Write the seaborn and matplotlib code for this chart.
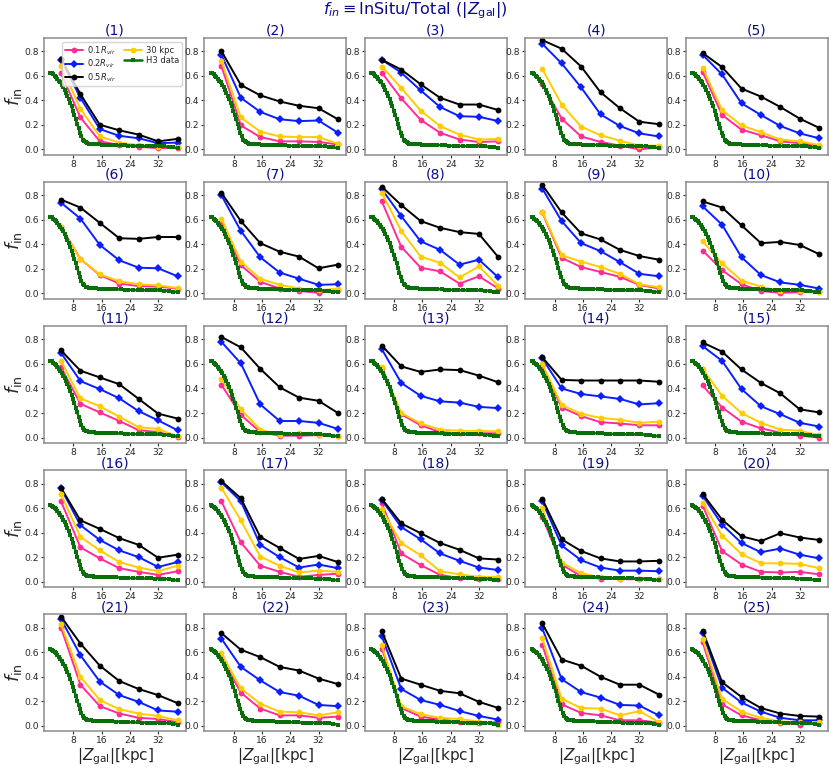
import numpy as np
import pandas as pd
import matplotlib
matplotlib.use("Agg")
import matplotlib.pyplot as plt
import seaborn as sns

# |Z_gal| bin centres for the simulated haloes
z_sim = [4.5, 10.0, 15.5, 21.0, 26.5, 32.0, 37.5]

# H3 observational curve (same in every panel)
h3_z = [1.5, 1.9, 2.3, 2.7, 3.1, 3.5, 3.9, 4.3, 4.7, 5.1, 5.5, 5.9, 6.3, 6.7, 7.1, 7.5,
        7.9, 8.3, 8.7, 9.1, 9.5, 9.9, 10.3, 10.7, 11.1, 11.5, 11.9, 12.3, 12.7, 13.1,
        13.5, 13.9, 14.5, 15.2, 16.0, 17.0, 18.0, 19.0, 20.2, 21.5, 22.5, 23.6, 25.0,
        26.2, 27.5, 28.8, 30.0, 31.2, 32.5, 33.8, 35.0, 36.2, 37.5]
h3_fin = [0.625, 0.62, 0.61, 0.60, 0.59, 0.575, 0.56, 0.545, 0.525, 0.505, 0.485, 0.46,
          0.435, 0.41, 0.38, 0.35, 0.315, 0.28, 0.245, 0.205, 0.17, 0.135, 0.105, 0.08,
          0.065, 0.056, 0.05, 0.047, 0.045, 0.044, 0.043, 0.042, 0.041, 0.040, 0.039,
          0.038, 0.037, 0.036, 0.035, 0.034, 0.032, 0.030, 0.028, 0.027, 0.026, 0.026,
          0.026, 0.025, 0.025, 0.024, 0.020, 0.015, 0.010]

# f_in per halo, one row per panel (1..25)
r01 = [
    [0.62, 0.26, 0.065, 0.035, 0.02, 0.01, 0.01],
    [0.68, 0.195, 0.10, 0.065, 0.065, 0.06, 0.04],
    [0.625, 0.415, 0.24, 0.135, 0.08, 0.06, 0.065],
    [0.535, 0.25, 0.105, 0.06, 0.03, 0.0, 0.015],
    [0.63, 0.28, 0.16, 0.115, 0.065, 0.05, 0.03],
    [0.545, 0.28, 0.15, 0.08, 0.06, 0.055, 0.04],
    [0.57, 0.23, 0.095, 0.04, 0.02, 0.005, 0.025],
    [0.75, 0.38, 0.21, 0.18, 0.08, 0.14, 0.04],
    [0.66, 0.29, 0.215, 0.175, 0.135, 0.07, 0.04],
    [0.35, 0.19, 0.075, 0.02, 0.005, 0.01, 0.02],
    [0.575, 0.275, 0.205, 0.135, 0.06, 0.045, 0.005],
    [0.43, 0.185, 0.045, 0.015, 0.015, 0.02, 0.01],
    [0.57, 0.19, 0.10, 0.045, 0.035, 0.035, 0.035],
    [0.58, 0.245, 0.175, 0.125, 0.115, 0.10, 0.10],
    [0.425, 0.245, 0.13, 0.075, 0.04, 0.015, 0.0],
    [0.655, 0.28, 0.19, 0.11, 0.08, 0.055, 0.085],
    [0.655, 0.32, 0.13, 0.08, 0.04, 0.055, 0.065],
    [0.64, 0.23, 0.135, 0.055, 0.03, 0.025, 0.025],
    [0.53, 0.14, 0.045, 0.025, 0.02, 0.02, 0.02],
    [0.62, 0.25, 0.14, 0.08, 0.075, 0.08, 0.06],
    [0.80, 0.335, 0.16, 0.10, 0.065, 0.055, 0.03],
    [0.56, 0.27, 0.14, 0.085, 0.085, 0.065, 0.075],
    [0.63, 0.145, 0.075, 0.05, 0.035, 0.02, 0.03],
    [0.66, 0.175, 0.105, 0.085, 0.045, 0.045, 0.025],
    [0.68, 0.175, 0.085, 0.045, 0.025, 0.01, 0.02],
]
r02 = [
    [0.73, 0.42, 0.165, 0.11, 0.09, 0.05, 0.055],
    [0.77, 0.42, 0.305, 0.245, 0.23, 0.235, 0.135],
    [0.73, 0.625, 0.48, 0.345, 0.27, 0.265, 0.23],
    [0.86, 0.70, 0.505, 0.285, 0.19, 0.13, 0.105],
    [0.77, 0.61, 0.375, 0.28, 0.19, 0.13, 0.09],
    [0.74, 0.61, 0.395, 0.27, 0.21, 0.205, 0.14],
    [0.80, 0.51, 0.295, 0.17, 0.12, 0.07, 0.075],
    [0.85, 0.63, 0.425, 0.355, 0.235, 0.275, 0.13],
    [0.855, 0.59, 0.41, 0.345, 0.255, 0.16, 0.14],
    [0.71, 0.56, 0.295, 0.15, 0.09, 0.07, 0.04],
    [0.69, 0.46, 0.395, 0.32, 0.215, 0.14, 0.06],
    [0.78, 0.605, 0.27, 0.135, 0.135, 0.12, 0.07],
    [0.72, 0.445, 0.34, 0.295, 0.285, 0.25, 0.24],
    [0.645, 0.40, 0.355, 0.335, 0.315, 0.27, 0.28],
    [0.745, 0.625, 0.395, 0.255, 0.19, 0.12, 0.09],
    [0.76, 0.46, 0.34, 0.255, 0.20, 0.12, 0.16],
    [0.81, 0.655, 0.30, 0.20, 0.115, 0.14, 0.11],
    [0.665, 0.445, 0.345, 0.23, 0.17, 0.115, 0.095],
    [0.655, 0.295, 0.175, 0.115, 0.09, 0.09, 0.085],
    [0.70, 0.465, 0.315, 0.24, 0.27, 0.22, 0.19],
    [0.87, 0.575, 0.36, 0.25, 0.195, 0.125, 0.115],
    [0.71, 0.48, 0.37, 0.275, 0.245, 0.17, 0.16],
    [0.73, 0.30, 0.21, 0.17, 0.12, 0.08, 0.05],
    [0.795, 0.38, 0.275, 0.23, 0.17, 0.165, 0.085],
    [0.755, 0.31, 0.19, 0.115, 0.065, 0.045, 0.045],
]
r05 = [
    [0.74, 0.45, 0.20, 0.155, 0.12, 0.065, 0.085],
    [0.80, 0.525, 0.44, 0.39, 0.355, 0.335, 0.245],
    [0.73, 0.65, 0.53, 0.42, 0.365, 0.365, 0.32],
    [0.89, 0.82, 0.675, 0.465, 0.335, 0.225, 0.205],
    [0.785, 0.67, 0.495, 0.43, 0.345, 0.25, 0.175],
    [0.765, 0.70, 0.575, 0.45, 0.445, 0.46, 0.46],
    [0.82, 0.59, 0.41, 0.34, 0.30, 0.205, 0.235],
    [0.87, 0.72, 0.59, 0.535, 0.50, 0.485, 0.295],
    [0.885, 0.66, 0.49, 0.44, 0.355, 0.305, 0.275],
    [0.75, 0.70, 0.555, 0.41, 0.42, 0.395, 0.32],
    [0.71, 0.545, 0.49, 0.435, 0.315, 0.195, 0.155],
    [0.82, 0.735, 0.56, 0.41, 0.325, 0.30, 0.20],
    [0.75, 0.58, 0.535, 0.555, 0.55, 0.505, 0.45],
    [0.655, 0.47, 0.465, 0.465, 0.465, 0.465, 0.455],
    [0.775, 0.70, 0.555, 0.445, 0.36, 0.23, 0.205],
    [0.765, 0.50, 0.43, 0.355, 0.30, 0.195, 0.22],
    [0.82, 0.68, 0.365, 0.275, 0.185, 0.21, 0.16],
    [0.675, 0.475, 0.395, 0.315, 0.26, 0.19, 0.18],
    [0.675, 0.345, 0.25, 0.19, 0.165, 0.165, 0.17],
    [0.715, 0.505, 0.37, 0.33, 0.395, 0.36, 0.34],
    [0.89, 0.67, 0.49, 0.365, 0.30, 0.25, 0.185],
    [0.755, 0.62, 0.56, 0.48, 0.45, 0.385, 0.34],
    [0.77, 0.385, 0.335, 0.285, 0.265, 0.195, 0.145],
    [0.835, 0.54, 0.49, 0.40, 0.335, 0.335, 0.255],
    [0.775, 0.355, 0.235, 0.145, 0.10, 0.08, 0.075],
]
kpc30 = [
    [0.68, 0.33, 0.105, 0.055, 0.035, 0.02, 0.015],
    [0.72, 0.26, 0.145, 0.105, 0.10, 0.10, 0.045],
    [0.675, 0.50, 0.315, 0.19, 0.12, 0.08, 0.085],
    [0.655, 0.365, 0.185, 0.115, 0.07, 0.03, 0.03],
    [0.665, 0.32, 0.195, 0.14, 0.08, 0.065, 0.035],
    [0.54, 0.28, 0.155, 0.10, 0.075, 0.065, 0.045],
    [0.61, 0.26, 0.12, 0.07, 0.04, 0.025, 0.04],
    [0.82, 0.51, 0.30, 0.25, 0.13, 0.22, 0.06],
    [0.665, 0.31, 0.26, 0.215, 0.16, 0.075, 0.05],
    [0.425, 0.245, 0.105, 0.055, 0.02, 0.02, 0.015],
    [0.625, 0.32, 0.255, 0.17, 0.085, 0.07, 0.01],
    [0.48, 0.23, 0.065, 0.02, 0.035, 0.02, 0.015],
    [0.575, 0.20, 0.115, 0.065, 0.055, 0.055, 0.05],
    [0.60, 0.265, 0.195, 0.16, 0.145, 0.12, 0.13],
    [0.56, 0.34, 0.20, 0.12, 0.065, 0.055, 0.02],
    [0.715, 0.365, 0.255, 0.16, 0.115, 0.085, 0.13],
    [0.765, 0.50, 0.205, 0.13, 0.075, 0.09, 0.08],
    [0.59, 0.315, 0.215, 0.085, 0.06, 0.04, 0.04],
    [0.60, 0.155, 0.07, 0.035, 0.025, 0.02, 0.025],
    [0.645, 0.375, 0.225, 0.15, 0.15, 0.145, 0.11],
    [0.83, 0.40, 0.21, 0.135, 0.10, 0.08, 0.045],
    [0.59, 0.305, 0.18, 0.115, 0.11, 0.085, 0.11],
    [0.655, 0.16, 0.095, 0.065, 0.055, 0.035, 0.01],
    [0.715, 0.22, 0.145, 0.14, 0.085, 0.12, 0.03],
    [0.71, 0.22, 0.115, 0.065, 0.035, 0.03, 0.03],
]

series_labels = [r"$0.1R_{vir}$", r"$0.2R_{vir}$", r"$0.5R_{vir}$", "30 kpc"]
series_data = [r01, r02, r05, kpc30]
series_colors = ["#ff2d95", "#0a1eff", "black", "#ffcc00"]
series_markers = ["o", "D", "o", "o"]

sns.set_style("ticks")
plt.rcParams["font.family"] = ["DejaVu Sans"]

fig, axes = plt.subplots(5, 5, figsize=(8.31, 7.69), dpi=100)
fig.subplots_adjust(left=0.053, right=0.996, top=0.951, bottom=0.049,
                    wspace=0.13, hspace=0.23)

for i, ax in enumerate(axes.flat):
    for vals, lab, col, mk in zip(series_data, series_labels, series_colors, series_markers):
        df = pd.DataFrame({"z": z_sim, "f": vals[i]})
        sns.lineplot(data=df, x="z", y="f", ax=ax, color=col, marker=mk,
                     markersize=3.8 if mk == "D" else 4.2, markeredgewidth=0,
                     linewidth=1.4, label=lab, legend=False)
    h3 = pd.DataFrame({"z": h3_z, "f": h3_fin})
    sns.lineplot(data=h3, x="z", y="f", ax=ax, color="#0a6e0a", marker="s",
                 markersize=3.2, markeredgewidth=0, linewidth=1.8,
                 label="H3 data", legend=False)

    ax.set_ylim(-0.045, 0.91)
    ax.set_xlim(-0.3, 39.9)
    ax.set_xticks([8, 16, 24, 32])
    ax.set_yticks([0.0, 0.2, 0.4, 0.6, 0.8])
    ax.tick_params(labelsize=6.6, length=2.5, width=0.8, pad=1.2)
    for sp in ax.spines.values():
        sp.set_visible(True)
        sp.set_color("#8c8c8c")
        sp.set_linewidth(1.1)
    ax.set_title(f"({i + 1})", color="#0a0a8c", fontsize=10, pad=1.5)
    ax.set_xlabel("")
    ax.set_ylabel("")
    if i % 5 == 0:
        ax.set_ylabel(r"$f_{\rm in}$", fontsize=13)
        ax.yaxis.set_label_coords(-0.14, 0.5)
    if i >= 20:
        ax.set_xlabel(r"$|Z_{\rm gal}|$[kpc]", fontsize=11)
        ax.xaxis.set_label_coords(0.5, -0.13)

axes[0, 0].legend(loc="upper right", ncol=2, fontsize=6, handlelength=2.2,
                  columnspacing=0.9, labelspacing=0.1, borderpad=0.3,
                  handletextpad=0.5, framealpha=0.8)

fig.suptitle(r"$f_{in} \equiv$InSitu/Total ($|Z_{\rm gal}|$)", color="#0a0a8c",
             fontsize=11.5, y=0.999)

fig.savefig("out.png", dpi=100)
